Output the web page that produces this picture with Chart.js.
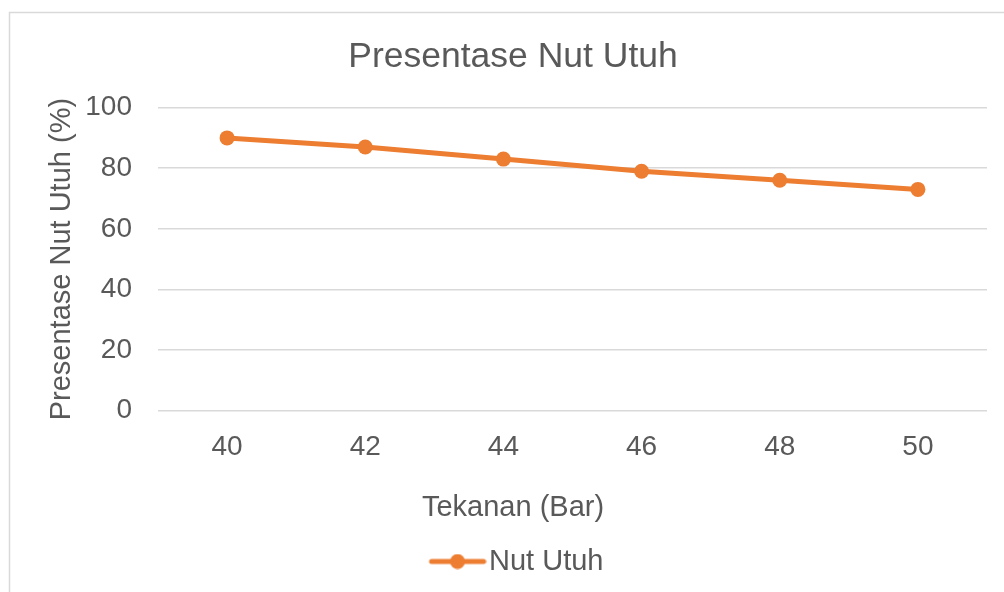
<!DOCTYPE html>
<html>
<head>
<meta charset="utf-8">
<script src="https://cdn.jsdelivr.net/npm/chart.js@4.4.1/dist/chart.umd.min.js"></script>
<style>
    html, body { margin: 0; padding: 0; background: #ffffff; }
    #wrap { width: 1004px; height: 592px; }
</style>
</head>
<body>
<div id="wrap"><canvas id="nutChart"></canvas></div>
<script>
// data
const tekanan = ["40", "42", "44", "46", "48", "50"];
const nutUtuh = [90, 87, 83, 79, 76, 73];
const yTicks = [0, 20, 40, 60, 80, 100];

const orange = "#ED7D31";
const textGray = "#595959";
const gridGray = "#D9D9D9";

Chart.defaults.font.family = "'Liberation Sans', Arial, sans-serif";
Chart.defaults.color = textGray;

// legend marker: line with a dot, like the Excel legend
// (drawn off-centre in a wider canvas so it sits where Excel puts it)
const marker = document.createElement("canvas");
marker.width = 76;
marker.height = 16;
const mctx = marker.getContext("2d");
mctx.strokeStyle = orange;
mctx.lineWidth = 5;
mctx.lineCap = "round";
mctx.beginPath();
mctx.moveTo(21, 8);
mctx.lineTo(73, 8);
mctx.stroke();
mctx.fillStyle = orange;
mctx.beginPath();
mctx.arc(47, 8, 7.5, 0, Math.PI * 2);
mctx.fill();

// thin frame of the chart box (cropped on the right and bottom)
const frame = {
    id: "frame",
    beforeDraw(chart) {
        const ctx = chart.ctx;
        ctx.save();
        ctx.strokeStyle = gridGray;
        ctx.lineWidth = 1.5;
        ctx.beginPath();
        ctx.moveTo(9.5, chart.height);
        ctx.lineTo(9.5, 12.5);
        ctx.lineTo(chart.width, 12.5);
        ctx.stroke();
        ctx.restore();
    },
};

const ctx = document.getElementById("nutChart").getContext("2d");
new Chart(ctx, {
    type: "line",
    data: {
        labels: tekanan,
        datasets: [
            {
                label: "Nut Utuh",
                data: nutUtuh,
                borderColor: orange,
                backgroundColor: orange,
                borderWidth: 5,
                pointRadius: 7.5,
                pointHoverRadius: 7.5,
                pointBackgroundColor: orange,
                pointBorderWidth: 0,
                tension: 0,
            },
        ],
    },
    options: {
        responsive: true,
        maintainAspectRatio: false,
        animation: false,
        layout: {
            padding: { left: 39, right: 17, top: 0, bottom: 6 },
        },
        plugins: {
            title: {
                display: true,
                text: "Presentase Nut Utuh",
                font: { size: 35.5, weight: "normal" },
                color: textGray,
                padding: { top: 36, bottom: 29 },
            },
            subtitle: {
                display: true,
                position: "bottom",
                weight: 900,
                text: "Tekanan (Bar)",
                font: { size: 29, weight: "normal" },
                color: textGray,
                padding: { top: 6, bottom: 18 },
            },
            legend: {
                position: "bottom",
                labels: {
                    usePointStyle: true,
                    pointStyleWidth: 52,
                    padding: 4,
                    font: { size: 29 },
                    color: textGray,
                    generateLabels: (chart) =>
                        chart.data.datasets.map((ds, i) => ({
                            text: ds.label,
                            pointStyle: marker,
                            fillStyle: orange,
                            strokeStyle: orange,
                            lineWidth: 0,
                            fontColor: textGray,
                            datasetIndex: i,
                        })),
                },
            },
            tooltip: { enabled: false },
        },
        scales: {
            x: {
                offset: true,
                grid: { display: false, drawTicks: false },
                border: { display: false },
                ticks: {
                    padding: 20,
                    font: { size: 28 },
                    color: textGray,
                },
            },
            y: {
                min: 0,
                max: 100,
                afterBuildTicks: (scale) => {
                    scale.ticks = yTicks.map((v) => ({ value: v }));
                },
                afterFit: (scale) => {
                    scale.width = 119;
                },
                grid: {
                    color: gridGray,
                    lineWidth: 1.5,
                    drawTicks: false,
                },
                border: { display: false },
                ticks: {
                    padding: 26,
                    font: { size: 28 },
                    color: textGray,
                },
                title: {
                    display: true,
                    text: "Presentase Nut Utuh (%)",
                    font: { size: 29 },
                    color: textGray,
                    padding: { top: 6, bottom: 0 },
                },
            },
        },
    },
    plugins: [frame],
});
</script>
</body>
</html>
